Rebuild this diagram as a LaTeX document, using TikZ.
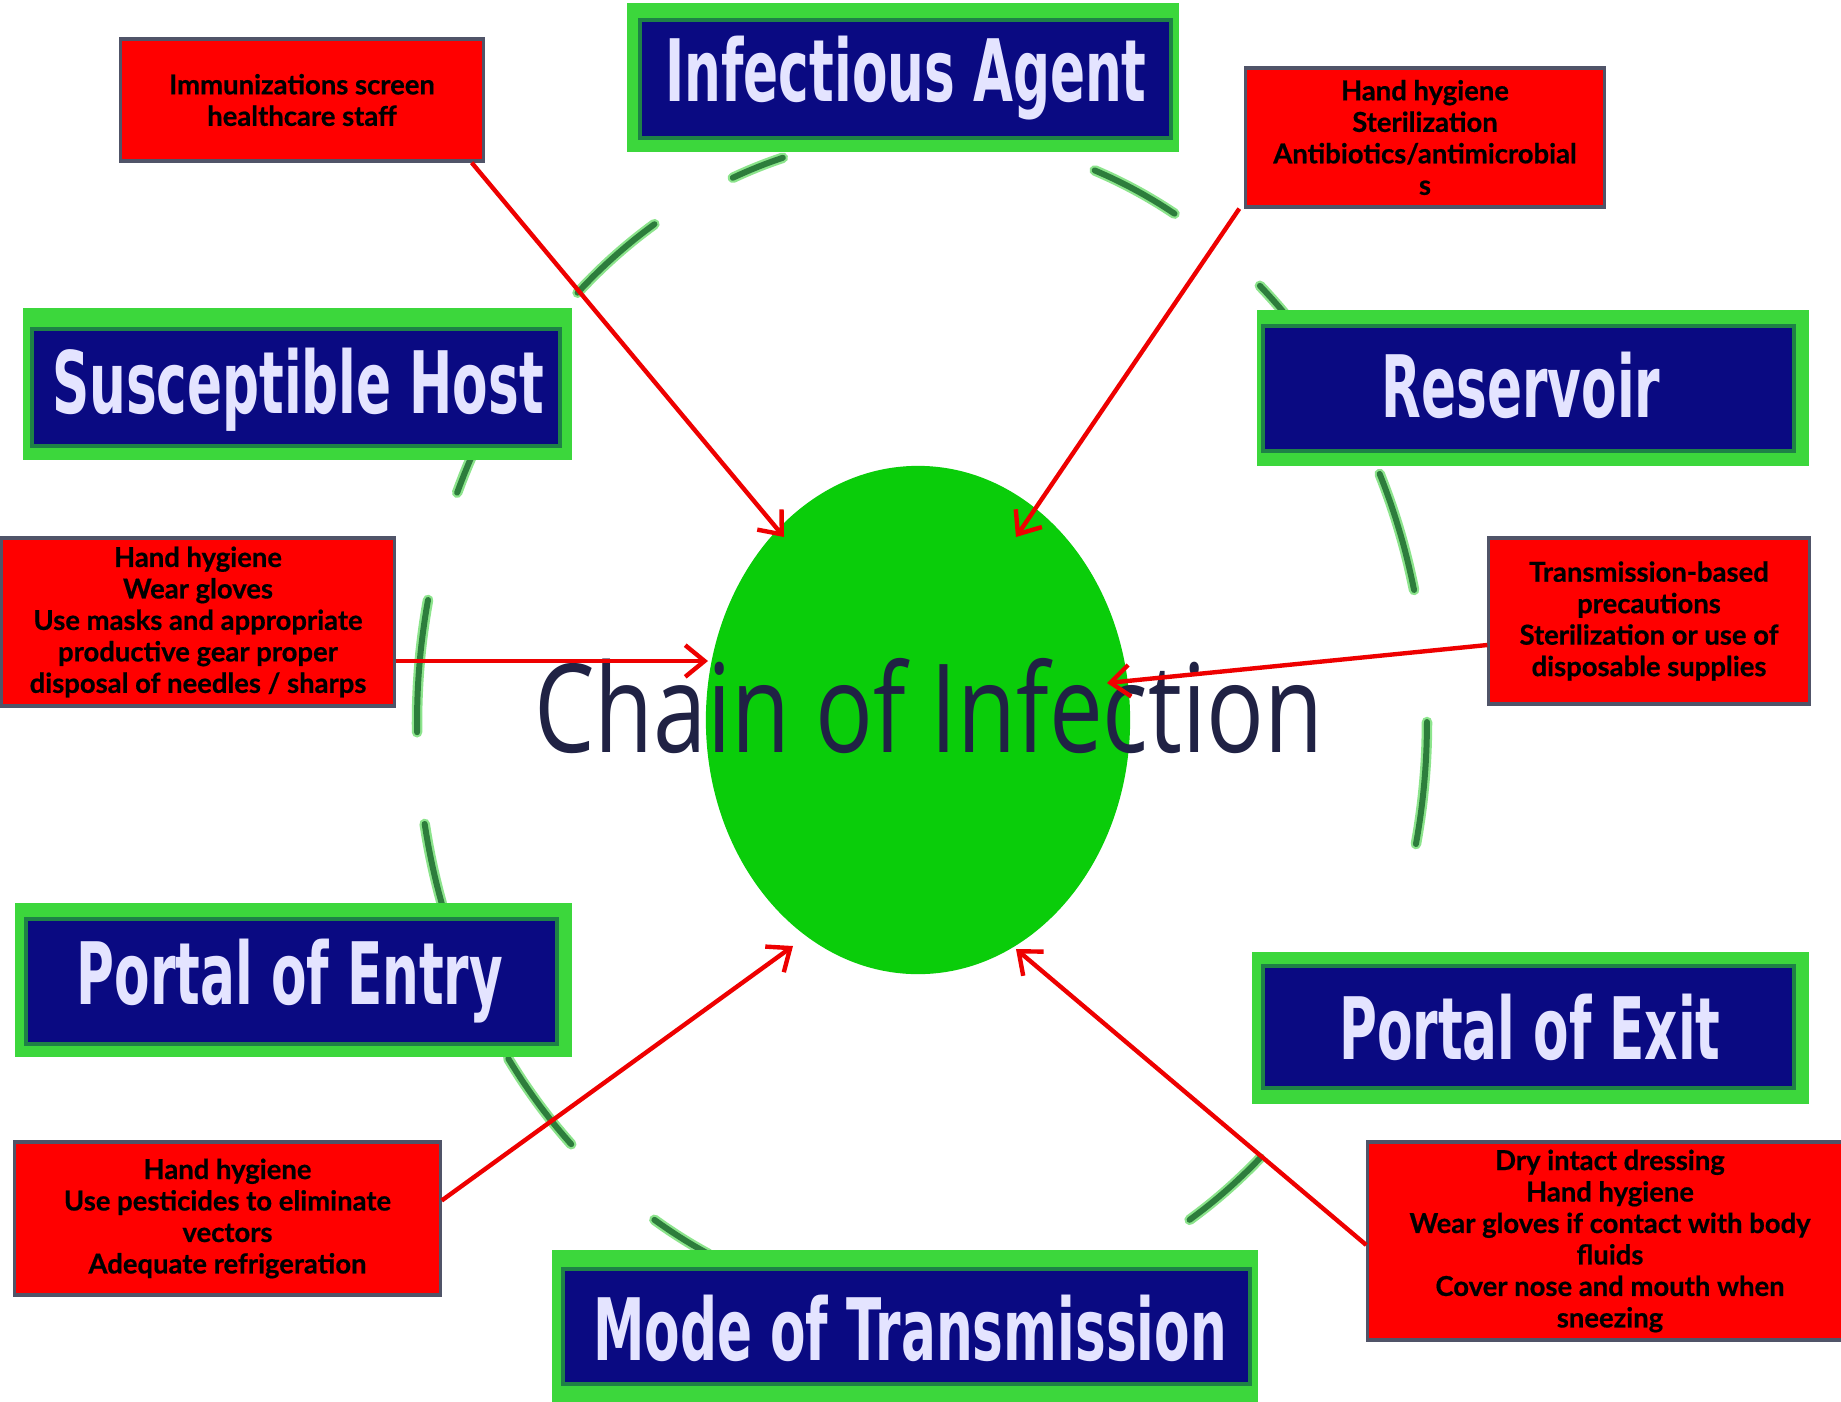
\documentclass[tikz,border=0pt]{standalone}
\usepackage{fontspec}
\setmainfont{Lato}[BoldFeatures={FakeBold=0.6}]
\newfontfamily\boxfont{DejaVu Sans}
\newfontfamily\chainfont{Open Sans}
\usetikzlibrary{arrows.meta,shapes.geometric,calc}
\definecolor{navyfill}{RGB}{10,10,130}
\definecolor{frameg}{RGB}{60,215,60}
\definecolor{frameg2}{RGB}{30,130,70}
\definecolor{boxtext}{RGB}{228,228,255}
\definecolor{corefill}{RGB}{10,205,10}
\definecolor{chaintext}{RGB}{32,34,68}
\definecolor{dashg}{RGB}{45,125,60}
\definecolor{dashglow}{RGB}{140,228,140}
\definecolor{redfill}{RGB}{255,0,0}
\definecolor{redborder}{RGB}{80,84,104}
\definecolor{arrowred}{RGB}{238,0,0}
\newcommand{\pxu}{0.28453pt}
\newcommand{\bluetxt}[1]{\scalebox{0.6}[1]{\boxfont\bfseries\fontsize{24.5}{28}\selectfont #1}}
\tikzset{
  framebox/.style={fill=frameg, draw=none},
  navybox/.style={fill=navyfill, draw=frameg2, line width=1.1pt},
  bluelabel/.style={anchor=base, text=boxtext, inner sep=0pt},
  redbox/.style={fill=redfill, draw=redborder, line width=0.9pt, align=center,
    inner sep=0pt, font=\bfseries\fontsize{7.8}{8.95}\selectfont, text=black},
  dashglowline/.style={draw=dashglow, line width=3pt, line cap=round},
  dashline/.style={draw=dashg, line width=1.7pt, line cap=round},
  arr/.style={draw=arrowred, line width=1.25pt, -{Straight Barb[length=5.5pt,width=9pt,line width=1.25pt]}},
}
\begin{document}
\begin{tikzpicture}[x=0.01cm,y=-0.01cm]
\useasboundingbox (0,0) rectangle (1841,1402);
\fill[white] (0,0) rectangle (1841,1402);

% dashed ring segments
\foreach \a/\b in {122/133,106/112,60/70,43/48,13/25,-12/0,-58/-48,-122/-115,-145/-134,-170/-162,168/181,153/157}{
  \draw[dashglowline] plot[domain=\a:\b, samples=16] ({922+505*cos(\x)},{722-587*sin(\x)});
  \draw[dashline] plot[domain=\a:\b, samples=16] ({922+505*cos(\x)},{722-587*sin(\x)});
}

% blue stage boxes
\fill[framebox] (627,3) rectangle (1179,152);
\draw[navybox] (640,20) rectangle (1171,138);
\node[bluelabel] (agent) at (906,101) {\bluetxt{Infectious Agent}};

\fill[framebox] (23,308) rectangle (572,460);
\draw[navybox] (32,329) rectangle (560,446);
\node[bluelabel] (host) at (298,413) {\bluetxt{Susceptible Host}};

\fill[framebox] (1257,310) rectangle (1809,466);
\draw[navybox] (1263,326) rectangle (1794,451);
\node[bluelabel] (reservoir) at (1521,417) {\bluetxt{Reservoir}};

\fill[framebox] (15,903) rectangle (572,1057);
\draw[navybox] (26,919) rectangle (557,1044);
\node[bluelabel] (entry) at (290,1004) {\bluetxt{Portal of Entry}};

\fill[framebox] (1252,952) rectangle (1809,1104);
\draw[navybox] (1263,966) rectangle (1794,1088);
\node[bluelabel] (exit) at (1530,1059) {\bluetxt{Portal of Exit}};

\fill[framebox] (552,1250) rectangle (1258,1410);
\draw[navybox] (563,1269) rectangle (1250,1384);
\node[bluelabel] (mode) at (910,1360) {\bluetxt{Mode of Transmission}};

% centre
\node[ellipse, fill=corefill, draw=none, inner sep=0pt,
  minimum width={424*\pxu}, minimum height={508*\pxu}] (core) at (918,720) {};
\node[anchor=base, inner sep=0pt, text=chaintext] (chain) at (929,752)
  {\scalebox{0.78}[1]{\chainfont\fontsize{35}{40}\selectfont Chain of Infection}};

% red boxes
\node[redbox, minimum width={362*\pxu}, minimum height={122*\pxu}] (imm) at (302,100)
  {Immunizations screen\\healthcare staff};
\node[redbox, minimum width={358*\pxu}, minimum height={139*\pxu}] (agentbox) at (1425,137.5)
  {Hand hygiene\\Sterilization\\Antibiotics/antimicrobial\\s};
\node[redbox, minimum width={392*\pxu}, minimum height={168*\pxu}] (hostbox) at (198,622)
  {Hand hygiene\\Wear gloves\\Use masks and appropriate\\productive gear proper\\disposal of needles / sharps};
\node[redbox, minimum width={320*\pxu}, minimum height={166*\pxu}] (resbox) at (1649,621)
  {Transmission-based\\precautions\\Sterilization or use of\\disposable supplies};
\node[redbox, minimum width={425*\pxu}, minimum height={153*\pxu}] (entrybox) at (227.5,1218.5)
  {Hand hygiene\\Use pesticides to eliminate\\vectors\\Adequate refrigeration};
\node[redbox, minimum width={484*\pxu}, minimum height={198*\pxu}] (exitbox) at (1610,1241)
  {Dry intact dressing\\Hand hygiene\\Wear gloves if contact with body\\fluids\\Cover nose and mouth when\\sneezing};

% arrow targets on the core
\coordinate (e1) at (784,537);
\coordinate (e2) at (1016,537);
\coordinate (e3) at (708,661);
\coordinate (e4) at (1107,683);
\coordinate (e5) at (793,946);
\coordinate (e6) at (1016,949);

\draw[arr] ($(imm.south east)+(-13,0)$) -- (e1);
\draw[arr] ($(agentbox.south west)+(-5,0)$) -- (e2);
\draw[arr] ($(hostbox.east)+(0,39)$) -- (e3);
\draw[arr] ($(resbox.west)+(0,24)$) -- (e4);
\draw[arr] ($(entrybox.east)+(0,-18)$) -- (e5);
\draw[arr] ($(exitbox.west)+(0,4)$) -- (e6);
\end{tikzpicture}
\end{document}
